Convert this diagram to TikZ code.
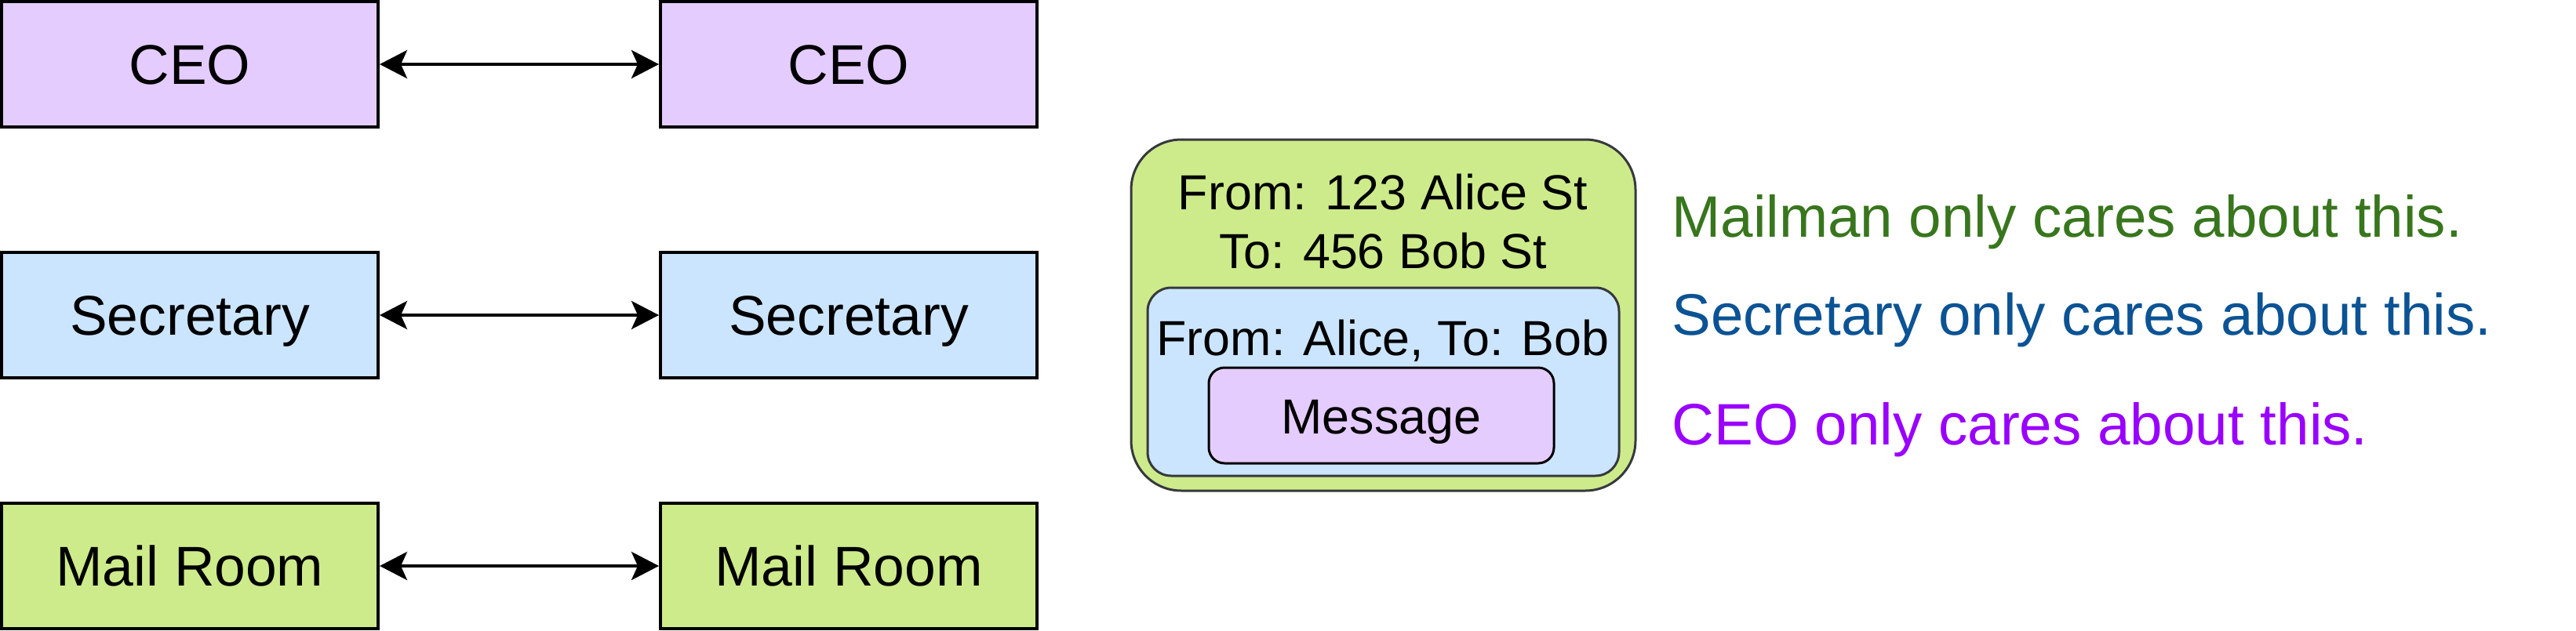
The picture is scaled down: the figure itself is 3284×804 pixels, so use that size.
\documentclass[tikz,border=0pt]{standalone}
\usepackage{fontspec}
\setmainfont{Liberation Sans}
\usetikzlibrary{arrows.meta}
\definecolor{ceofill}{HTML}{E5CCFF}
\definecolor{secfill}{HTML}{CCE5FF}
\definecolor{mailfill}{HTML}{CDEB8B}
\definecolor{envline}{HTML}{36393D}
\definecolor{greentext}{HTML}{38761D}
\definecolor{bluetext}{HTML}{0B5394}
\definecolor{purpletext}{HTML}{9900FF}
\begin{document}
\begin{tikzpicture}[x=0.5pt,y=-0.5pt,
  box/.style={draw=black, line width=2pt, minimum width=240pt, minimum height=80pt, inner sep=0pt,
    text height=25.4pt, text depth=0pt, font=\fontsize{35.7}{40}\selectfont},
  link/.style={{Stealth[length=17.5pt,width=18pt,inset=4pt]}-{Stealth[length=17.5pt,width=18pt,inset=4pt]}, line width=2pt},
  env/.style={draw=envline, line width=1.5pt},
  envtext/.style={anchor=base, inner sep=0pt, font=\fontsize{31.4}{36}\selectfont},
  note/.style={anchor=base west, inner sep=0pt, font=\fontsize{37.3}{42}\selectfont}]
\useasboundingbox (0,0) rectangle (3284,804);
% left / right stacks
\node[box, fill=ceofill] (ceoL) at (242,82) {CEO};
\node[box, fill=ceofill] (ceoR) at (1082,82) {CEO};
\node[box, fill=secfill] (secL) at (242,402) {Secretary};
\node[box, fill=secfill] (secR) at (1082,402) {Secretary};
\node[box, fill=mailfill] (mailL) at (242,722) {Mail Room};
\node[box, fill=mailfill] (mailR) at (1082,722) {Mail Room};
\draw[link] (ceoL) -- (ceoR);
\draw[link] (secL) -- (secR);
\draw[link] (mailL) -- (mailR);
% envelope
\node[env, fill=mailfill, rounded corners=32pt, minimum width=321.5pt, minimum height=224pt, inner sep=0pt] (outer) at (1763.5,402) {};
\node[env, fill=secfill, rounded corners=15pt, minimum width=300.5pt, minimum height=120pt, inner sep=0pt] (inner) at (1763.5,487) {};
\node[draw=black, line width=1.5pt, fill=ceofill, rounded corners=10pt, minimum width=220pt, minimum height=61pt, inner sep=0pt] (msg) at (1761,530) {};
\node[envtext] (t1) at (1763,267) {From: 123 Alice St};
\node[envtext] (t2) at (1763,342) {To: 456 Bob St};
\node[envtext] (t3) at (1763,453) {From: Alice, To: Bob};
\node[envtext] (t4) at (1761,553) {Message};
% notes
\node[note, text=greentext] (n1) at (2131,302) {Mailman only cares about this.};
\node[note, text=bluetext] (n2) at (2131,427) {Secretary only cares about this.};
\node[note, text=purpletext] (n3) at (2131,567) {CEO only cares about this.};
\end{tikzpicture}
\end{document}
